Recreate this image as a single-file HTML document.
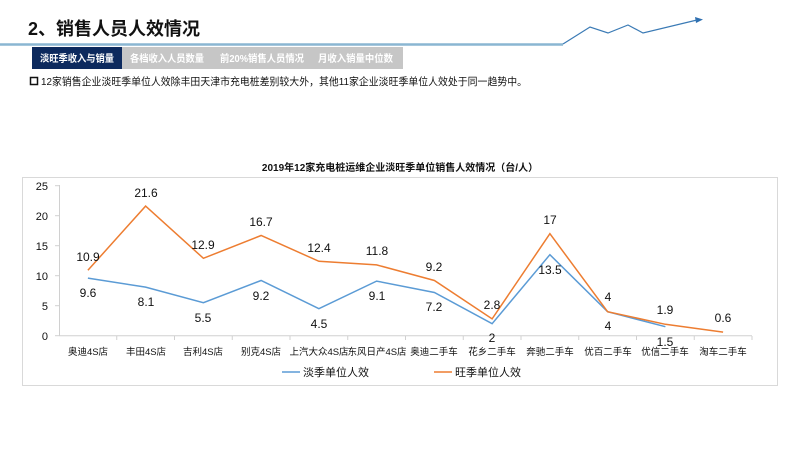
<!DOCTYPE html>
<html><head><meta charset="utf-8"><style>
body{margin:0;width:800px;height:450px;background:#fff;overflow:hidden;font-family:"Liberation Sans","Noto Sans CJK SC",sans-serif;}
</style></head><body>
<svg width="800" height="450" viewBox="0 0 800 450" xmlns="http://www.w3.org/2000/svg" style="position:absolute;left:0;top:0;font-family:'Liberation Sans','Noto Sans CJK SC',sans-serif">
<text x="28" y="35" font-size="18" font-weight="bold" fill="#111">2、销售人员人效情况</text>
<polyline points="0,44.5 563,44.5" stroke="#8ab6d2" stroke-width="2.5"/>
<polygon points="703,19.5 695,17 696,23" fill="#2e6fb0"/>
<polyline points="563,44 590,27 608,33 628,25 643,33 697,20" fill="none" stroke="#3a7ab5" stroke-width="1.2"/>
<rect x="32" y="47" width="90" height="22" fill="#0d2a5e"/>
<rect x="122" y="47" width="281" height="22" fill="#c6c6c6"/>
<g font-size="10" fill="#fff" font-weight="bold">
<text x="40" y="62" textLength="74" lengthAdjust="spacingAndGlyphs">淡旺季收入与销量</text>
<text x="130" y="62" textLength="74" lengthAdjust="spacingAndGlyphs">各档收入人员数量</text>
<text x="220" y="62" textLength="84" lengthAdjust="spacingAndGlyphs">前20%销售人员情况</text>
<text x="318" y="62" textLength="75" lengthAdjust="spacingAndGlyphs">月收入销量中位数</text>
</g>
<rect x="30.5" y="77.5" width="7" height="7" fill="none" stroke="#111" stroke-width="1.5"/>
<text x="41" y="85" font-size="10.5" fill="#111" textLength="486" lengthAdjust="spacingAndGlyphs">12家销售企业淡旺季单位人效除丰田天津市充电桩差别较大外，其他11家企业淡旺季单位人效处于同一趋势中。</text>
<text x="400" y="171" font-size="10" font-weight="bold" fill="#111" text-anchor="middle">2019年12家充电桩运维企业淡旺季单位销售人效情况（台/人）</text>
<rect x="22.5" y="177.5" width="755" height="208" fill="none" stroke="#d9d9d9" stroke-width="1"/>
<g stroke="#d0d0d0" stroke-width="1">
<line x1="59.5" y1="185" x2="59.5" y2="336"/>
<line x1="59" y1="335.7" x2="752" y2="335.7"/>
<line x1="55" y1="335.7" x2="59" y2="335.7"/><line x1="55" y1="305.7" x2="59" y2="305.7"/><line x1="55" y1="275.7" x2="59" y2="275.7"/><line x1="55" y1="245.7" x2="59" y2="245.7"/><line x1="55" y1="215.7" x2="59" y2="215.7"/><line x1="55" y1="185.7" x2="59" y2="185.7"/>
<line x1="116.75" y1="336" x2="116.75" y2="340"/><line x1="174.5" y1="336" x2="174.5" y2="340"/><line x1="232.25" y1="336" x2="232.25" y2="340"/><line x1="290" y1="336" x2="290" y2="340"/><line x1="347.75" y1="336" x2="347.75" y2="340"/><line x1="405.5" y1="336" x2="405.5" y2="340"/><line x1="463.25" y1="336" x2="463.25" y2="340"/><line x1="521" y1="336" x2="521" y2="340"/><line x1="578.75" y1="336" x2="578.75" y2="340"/><line x1="636.5" y1="336" x2="636.5" y2="340"/><line x1="694.25" y1="336" x2="694.25" y2="340"/><line x1="752" y1="336" x2="752" y2="340"/>
</g>
<g font-size="11" fill="#111" text-anchor="end">
<text x="48" y="340">0</text><text x="48" y="310">5</text><text x="48" y="280">10</text><text x="48" y="250">15</text><text x="48" y="220">20</text><text x="48" y="190">25</text>
</g>
<g font-size="9.5" fill="#111" text-anchor="middle">
<text x="88" y="355">奥迪4S店</text><text x="146" y="355">丰田4S店</text><text x="203" y="355">吉利4S店</text><text x="261" y="355">别克4S店</text><text x="319" y="355">上汽大众4S店</text><text x="377" y="355">东风日产4S店</text><text x="434" y="355">奥迪二手车</text><text x="492" y="355">花乡二手车</text><text x="550" y="355">奔驰二手车</text><text x="608" y="355">优百二手车</text><text x="665" y="355">优信二手车</text><text x="723" y="355">淘车二手车</text>
</g>
<polyline fill="none" stroke="#5b9bd5" stroke-width="1.5" points="87.9,278.1 145.6,287.1 203.4,302.7 261.1,280.5 318.9,308.7 376.6,281.1 434.4,292.5 492.1,323.7 549.9,254.7 607.6,311.7 665.4,326.7"/>
<polyline fill="none" stroke="#ed7d31" stroke-width="1.5" points="87.9,270.3 145.6,206.1 203.4,258.3 261.1,235.5 318.9,261.3 376.6,264.9 434.4,280.5 492.1,318.9 549.9,233.7 607.6,311.7 665.4,324.3 723.1,332.1"/>
<g font-size="12" fill="#111" text-anchor="middle">
<text x="88" y="261">10.9</text><text x="146" y="197">21.6</text><text x="203" y="249">12.9</text><text x="261" y="226">16.7</text><text x="319" y="252">12.4</text><text x="377" y="255">11.8</text><text x="434" y="271">9.2</text><text x="492" y="309">2.8</text><text x="550" y="224">17</text><text x="608" y="301">4</text><text x="665" y="314">1.9</text><text x="723" y="322">0.6</text>
<text x="88" y="297">9.6</text><text x="146" y="306">8.1</text><text x="203" y="322">5.5</text><text x="261" y="300">9.2</text><text x="319" y="328">4.5</text><text x="377" y="300">9.1</text><text x="434" y="311">7.2</text><text x="492" y="342">2</text><text x="550" y="274">13.5</text><text x="608" y="330">4</text><text x="665" y="346">1.5</text>
</g>
<line x1="282" y1="372" x2="300" y2="372" stroke="#5b9bd5" stroke-width="1.5"/>
<text x="303" y="376" font-size="11" fill="#111">淡季单位人效</text>
<line x1="434" y1="372" x2="452" y2="372" stroke="#ed7d31" stroke-width="1.5"/>
<text x="455" y="376" font-size="11" fill="#111">旺季单位人效</text>
</svg>
</body></html>
